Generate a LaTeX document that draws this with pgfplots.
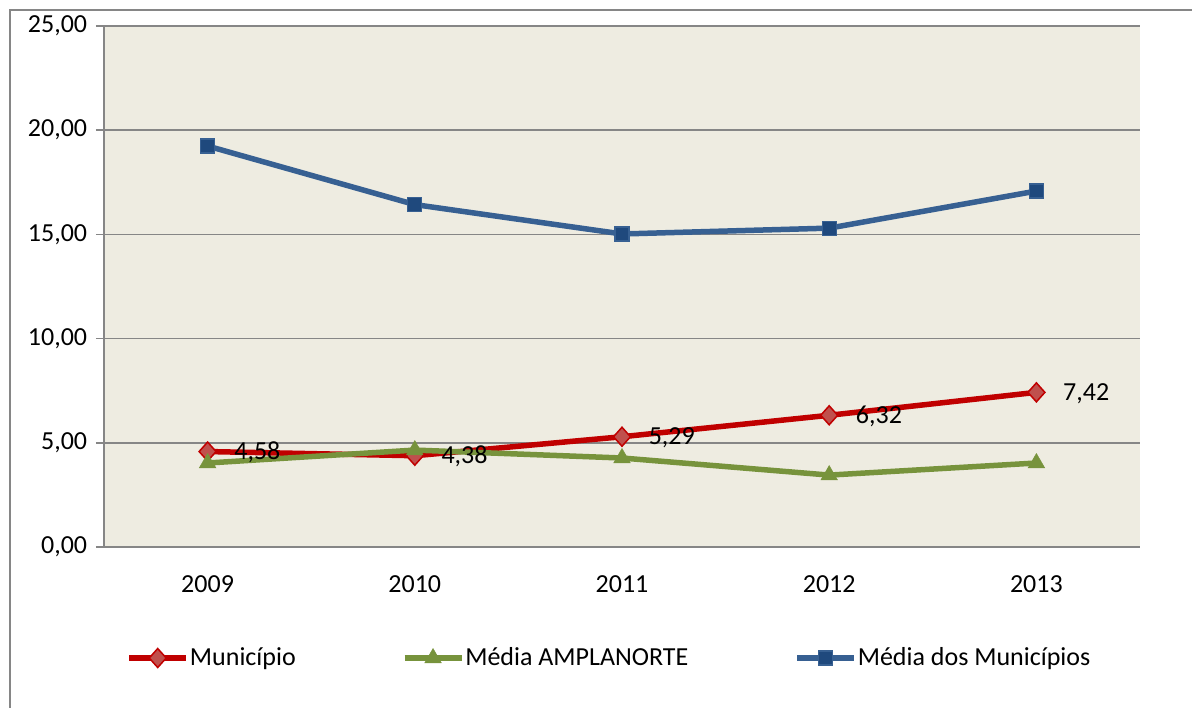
\documentclass[border=0pt]{standalone}
\usepackage{fontspec}
\setmainfont{Carlito}
\usepackage{pgfplots}
\pgfplotsset{compat=1.18}
\definecolor{gridgray}{RGB}{134,134,134}
\definecolor{bgc}{RGB}{238,236,225}
\definecolor{redl}{RGB}{192,0,0}
\definecolor{redf}{RGB}{192,80,77}
\definecolor{greenl}{RGB}{119,147,60}
\definecolor{bluel}{RGB}{55,96,146}
\definecolor{bluef}{RGB}{31,73,125}
\begin{document}
\fontsize{26}{31}\selectfont
\begin{tikzpicture}[x=1pt,y=1pt]
\path[use as bounding box] (0,0) rectangle (1192,708);
\draw[gridgray, line width=1.5pt] (10,0) -- (10,698) -- (1192,698);
\begin{axis}[
  at={(104pt,161pt)}, anchor=south west,
  scale only axis, width=1036pt, height=521pt,
  xmin=-0.5, xmax=4.5, ymin=0, ymax=25,
  xtick={0,1,2,3,4}, xticklabels={2009,2010,2011,2012,2013},
  ytick={0,5,10,15,20,25},
  /pgf/number format/assume math mode=true,
  yticklabel={\pgfmathprintnumber[fixed,fixed zerofill,precision=2,use comma]{\tick}},
  axis lines*=left,
  axis line style={gridgray, line width=1.5pt},
  ymajorgrids, grid style={gridgray, line width=1.5pt},
  tick align=outside, major tick length=8pt,
  xtick style={draw=none},
  ytick style={gridgray, line width=1.5pt},
  xticklabel style={yshift=-12pt},
  axis background/.style={fill=bgc},
  clip=false,
  legend columns=3,
  legend style={at={(0.0215,-0.2131)}, anchor=west, draw=none, fill=none,
    inner sep=0pt, nodes={inner sep=1pt},
    /tikz/every even column/.append style={column sep=105pt}},
  legend image code/.code={\draw[mark repeat=2,mark phase=2,#1] plot coordinates {(0pt,0pt) (28.5pt,0pt) (57pt,0pt)};},
]
\addplot[redl, line width=5.5pt, mark=diamond*, mark size=9.5pt,
  mark options={fill=redf, draw=redl, line width=1.5pt, xscale=1.19},
  nodes near coords={\pgfmathprintnumber[fixed,fixed zerofill,precision=2,use comma]{\pgfplotspointmeta}},
  every node near coord/.append style={anchor=west, inner sep=0pt, xshift=26pt, yshift=-1pt, text=black}]
  coordinates {(0,4.58) (1,4.38) (2,5.29) (3,6.32) (4,7.42)};
\addlegendentry{Município}
\addplot[greenl, line width=5.5pt, mark=triangle*, mark size=9.5pt,
  mark options={fill=greenl, draw=greenl, line width=0.5pt}]
  coordinates {(0,4.03) (1,4.65) (2,4.27) (3,3.45) (4,4.03)};
\addlegendentry{Média AMPLANORTE}
\addplot[bluel, line width=5.5pt, mark=square*, mark size=7pt,
  mark options={fill=bluef, draw=bluel, line width=1.2pt}]
  coordinates {(0,19.24) (1,16.43) (2,15.02) (3,15.30) (4,17.08)};
\addlegendentry{Média dos Municípios}
\end{axis}
\end{tikzpicture}
\end{document}
